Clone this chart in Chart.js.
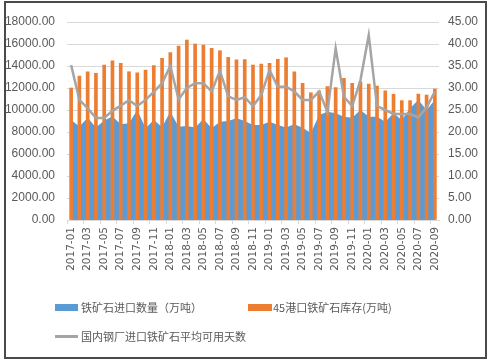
<!DOCTYPE html>
<html>
<head>
<meta charset="utf-8">
<script src="https://cdn.jsdelivr.net/npm/chart.js@4/dist/chart.umd.min.js"></script>
<style>
  html, body { margin: 0; padding: 0; background: #fff; }
  #wrap { position: relative; width: 495px; height: 361px; overflow: hidden; background: #fff; }
  #frame { position: absolute; left: 4px; top: 1px; width: 479px; height: 354px; border: 2px solid #4a4a4a; box-sizing: content-box; }
  #c { position: absolute; left: 0; top: 0; }
  .lg { position: absolute; font-family: "Noto Sans CJK SC", "Noto Sans", sans-serif; font-size: 11px; color: #595959; white-space: nowrap; line-height: 14px; }
  .sw { position: absolute; }
</style>
</head>
<body>
<div id="wrap">
  <canvas id="c" width="495" height="295"></canvas>
  <div id="frame"></div>
  <div class="sw" style="left:55px;top:304px;width:23px;height:7px;background:#5B9BD5;"></div>
  <div class="lg" style="left:81px;top:300px;">铁矿石进口数量（万吨）</div>
  <div class="sw" style="left:248px;top:304px;width:24px;height:7px;background:#ED7D31;"></div>
  <div class="lg" style="left:273px;top:300px;">45港口铁矿石库存(万吨)</div>
  <div class="sw" style="left:55px;top:335px;width:23px;height:3px;background:#A5A5A5;"></div>
  <div class="lg" style="left:81px;top:329px;">国内钢厂进口铁矿石平均可用天数</div>
</div>
<script>
const months = [
  "2017-01","2017-02","2017-03","2017-04","2017-05","2017-06","2017-07","2017-08","2017-09","2017-10","2017-11","2017-12",
  "2018-01","2018-02","2018-03","2018-04","2018-05","2018-06","2018-07","2018-08","2018-09","2018-10","2018-11","2018-12",
  "2019-01","2019-02","2019-03","2019-04","2019-05","2019-06","2019-07","2019-08","2019-09","2019-10","2019-11","2019-12",
  "2020-01","2020-02","2020-03","2020-04","2020-05","2020-06","2020-07","2020-08","2020-09"
];
const importVolume = [
  9100, 8500, 9300, 8400, 9050, 9400, 8700, 8800, 10000, 8330, 9100, 8450,
  9850, 8480, 8550, 8420, 9180, 8330, 8940, 9000, 9240, 9000, 8640, 8640,
  8940, 8640, 8420, 8700, 8390, 7900, 9550, 9850, 9700, 9390, 9300, 10000,
  9390, 9390, 8940, 9700, 9090, 10150, 10900, 10000, 10900
];
const portInventory = [
  12000, 13090, 13480, 13340, 14090, 14480, 14250, 13480, 13390, 13640, 14030, 14700,
  15210, 15820, 16360, 16000, 15910, 15610, 15390, 14790, 14550, 14580, 14090, 14180,
  14240, 14610, 14750, 13480, 12430, 11570, 11730, 12120, 12030, 12880, 12430, 12570,
  12360, 12180, 11750, 11430, 10850, 10850, 11450, 11360, 11910
];
const availableDays = [
  35.2, 27.3, 25.4, 23.2, 23.2, 24.8, 26.0, 27.2, 25.9, 27.3, 29.1, 31.1,
  35.0, 27.4, 30.0, 31.1, 31.1, 29.2, 33.9, 28.1, 27.3, 27.9, 25.9, 28.4,
  34.1, 30.3, 30.3, 29.2, 27.3, 27.3, 29.2, 24.6, 39.0, 28.0, 25.9, 31.8,
  42.0, 25.9, 25.0, 24.1, 24.1, 24.1, 23.3, 25.6, 29.2
];
const leftTicks = [0, 2000, 4000, 6000, 8000, 10000, 12000, 14000, 16000, 18000];
const rightTicks = [0, 5, 10, 15, 20, 25, 30, 35, 40, 45];

const numFont = { family: '"Liberation Sans Narrow", "Liberation Sans", sans-serif', size: 12 };
const txtColor = '#595959';

new Chart(document.getElementById('c'), {
  data: {
    labels: months,
    datasets: [
      {
        type: 'bar', label: '45港口铁矿石库存(万吨)', data: portInventory,
        backgroundColor: '#ED7D31', barThickness: 3, yAxisID: 'y', order: 2
      },
      {
        type: 'line', label: '铁矿石进口数量（万吨）', data: importVolume,
        backgroundColor: '#5B9BD5', borderColor: '#5B9BD5', borderWidth: 0,
        fill: 'origin', pointRadius: 0, tension: 0, yAxisID: 'y', order: 3
      },
      {
        type: 'line', label: '国内钢厂进口铁矿石平均可用天数', data: availableDays,
        borderColor: '#A5A5A5', borderWidth: 2.5, fill: false, pointRadius: 0,
        tension: 0, yAxisID: 'y2', order: 1
      }
    ]
  },
  options: {
    responsive: false, animation: false,
    layout: { padding: { top: 22, left: 0, right: 0, bottom: 0 } },
    plugins: { legend: { display: false }, tooltip: { enabled: false } },
    scales: {
      x: {
        offset: true,
        afterFit: s => { s.height = 75; },
        grid: {
          offset: true, drawOnChartArea: false, drawTicks: true, tickLength: 4,
          color: ctx => (ctx.index % 2 === 0 ? '#d9d9d9' : 'rgba(0,0,0,0)')
        },
        border: { display: true, color: '#d9d9d9' },
        ticks: {
          autoSkip: false, maxRotation: 90, minRotation: 90, padding: 3,
          color: txtColor, font: { family: '"DejaVu Sans", sans-serif', size: 10.5 },
          callback: (v, i) => (i % 2 === 0 ? months[i] : '')
        }
      },
      y: {
        position: 'left', min: 0, max: 18000,
        afterFit: s => { s.width = 67; },
        afterBuildTicks: s => { s.ticks = leftTicks.map(v => ({ value: v })); },
        grid: { color: '#d9d9d9', drawTicks: false },
        border: { display: false },
        ticks: { padding: 12, color: txtColor, font: numFont, callback: v => Number(v).toFixed(2) }
      },
      y2: {
        position: 'right', min: 0, max: 45,
        afterFit: s => { s.width = 56; },
        afterBuildTicks: s => { s.ticks = rightTicks.map(v => ({ value: v })); },
        grid: { display: false, drawTicks: false },
        border: { display: false },
        ticks: { padding: 9, color: txtColor, font: numFont, callback: v => Number(v).toFixed(2) }
      }
    }
  }
});
</script>
</body>
</html>
